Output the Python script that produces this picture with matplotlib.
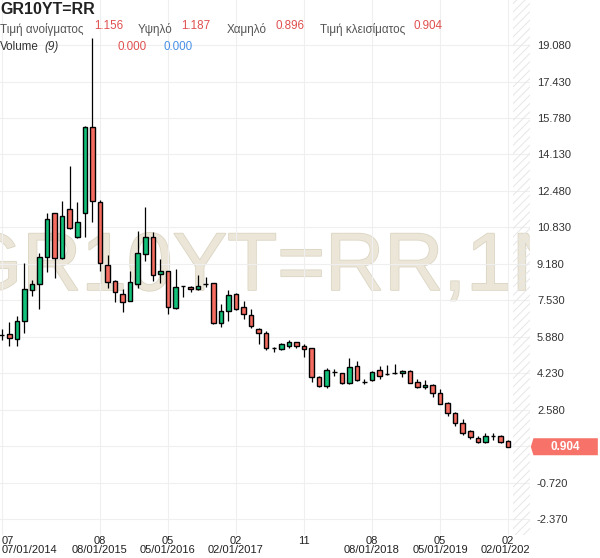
import matplotlib
matplotlib.use('Agg')
import matplotlib.pyplot as plt
import matplotlib.patheffects as pe
from matplotlib.patches import Rectangle, Polygon
from matplotlib.transforms import blended_transform_factory, Bbox, TransformedBbox

plt.rcParams['font.family'] = ['Liberation Sans', 'DejaVu Sans']
plt.rcParams['hatch.linewidth'] = 0.7

# monthly candles, 07/2014 .. 02/2020
opens = [5.96, 6.00, 5.76, 6.59, 7.99, 8.25, 9.50, 11.49, 9.46, 11.65,
         10.41, 11.49, 15.36, 11.99, 9.13, 8.40, 7.80, 7.50, 8.25, 9.61,
         10.41, 8.70, 8.85, 7.19, 8.19, 8.12, 8.03, 8.25, 8.30, 6.49,
         7.04, 7.80, 7.21, 6.86, 6.22, 6.06, 5.38, 5.31, 5.46, 5.63,
         5.46, 5.36, 4.07, 3.65, 4.30, 4.23, 3.77, 4.55, 3.85, 3.92,
         4.37, 4.18, 4.23, 4.23, 4.35, 3.82, 3.59, 3.69, 3.32, 2.87,
         2.42, 1.96, 1.61, 1.28, 1.10, 1.39, 1.40, 1.156]
highs = [6.23, 6.56, 6.82, 9.20, 8.45, 9.68, 11.46, 11.50, 12.03, 13.60,
         11.96, 15.40, 19.40, 12.07, 9.58, 8.45, 8.04, 8.85, 10.66, 11.74,
         10.63, 9.38, 8.86, 8.93, 8.20, 8.19, 8.67, 8.57, 8.30, 7.35,
         8.00, 7.87, 7.50, 7.12, 6.26, 6.14, 5.43, 5.58, 5.73, 5.65,
         5.54, 5.38, 4.10, 4.45, 4.42, 4.25, 4.90, 4.78, 3.97, 4.33,
         4.56, 4.60, 4.64, 4.37, 4.36, 3.97, 3.92, 3.73, 3.50, 2.91,
         2.46, 2.14, 1.66, 1.40, 1.51, 1.54, 1.42, 1.187]
lows = [5.73, 5.46, 5.46, 6.06, 7.74, 7.12, 8.80, 8.55, 9.38, 10.76,
        10.33, 10.41, 11.09, 8.87, 8.10, 7.44, 6.99, 7.50, 8.10, 9.32,
        8.42, 8.33, 6.89, 7.15, 7.69, 7.92, 8.00, 8.15, 6.45, 6.33,
        6.60, 7.09, 6.67, 6.26, 5.54, 5.28, 5.17, 5.29, 5.38, 5.38,
        4.98, 3.82, 3.60, 3.55, 4.12, 3.73, 3.75, 3.89, 3.74, 3.89,
        3.95, 4.15, 4.21, 4.08, 3.78, 3.57, 3.51, 3.17, 2.82, 2.31,
        1.85, 1.43, 1.25, 1.08, 1.08, 1.21, 1.08, 0.896]
closes = [5.96, 5.81, 6.60, 8.04, 8.25, 9.50, 11.19, 9.46, 11.36, 10.81,
          11.09, 15.36, 12.03, 9.20, 8.37, 7.89, 7.44, 8.34, 9.66, 10.41,
          8.66, 8.85, 7.21, 8.15, 8.19, 8.03, 8.19, 8.25, 6.49, 7.06,
          7.77, 7.12, 6.89, 6.37, 6.04, 5.36, 5.38, 5.54, 5.63, 5.46,
          5.31, 4.04, 3.65, 4.37, 4.30, 3.77, 4.49, 3.92, 3.85, 4.30,
          4.12, 4.18, 4.23, 4.33, 3.80, 3.59, 3.69, 3.32, 2.84, 2.42,
          1.96, 1.51, 1.33, 1.10, 1.40, 1.39, 1.10, 0.904]

tick_idx = [0, 13, 22, 31, 40, 49, 58, 67]
tick_months = ['07', '08', '05', '02', '11', '08', '05', '02']
tick_dates = ['07/01/2014', '08/01/2015', '05/01/2016', '02/01/2017', '',
              '08/01/2018', '05/01/2019', '02/01/2020']
y_ticks = [19.08, 17.43, 15.78, 14.13, 12.48, 10.83, 9.18, 7.53, 5.88,
           4.23, 2.58, 0.93, -0.72, -2.37]

green = '#12c27a'
red = '#f56c60'

fig = plt.figure(figsize=(6, 5.58), dpi=100)
ax = fig.add_axes([0, 23 / 558, 530 / 600, 535 / 558])
ax.set_xlim(-0.225, 69.9)
ax.set_ylim(-3.09, 21.12)

for s in ax.spines.values():
    s.set_visible(False)

ax.set_xticks(tick_idx)
ax.set_xticklabels([''] * len(tick_idx))
ax.yaxis.tick_right()
ax.set_yticks(y_ticks)
ax.set_yticklabels(['' if abs(v - 0.93) < 1e-6 else '%.3f' % v for v in y_ticks])
ax.tick_params(axis='both', length=0)
ax.tick_params(axis='y', labelsize=8, pad=5, labelcolor='#333333')
ax.grid(True, color='#efefef', linewidth=0.8)
ax.set_axisbelow(True)

# watermark
ax.text(0.5, 1 - 290 / 535, 'GR10YT=RR,1N', transform=ax.transAxes,
        ha='center', va='baseline', fontsize=59, color='#ebe6d8', zorder=0.5,
        clip_on=True,
        path_effects=[pe.withStroke(linewidth=1.2, foreground='#dbd5c3')])

# future area hatch
ax.axvspan(67.65, 70.0, fill=False, hatch='////', edgecolor='#e6e6e6',
           linewidth=0, zorder=0.6)

# candles
w = 0.6
for i, (o, h, l, c) in enumerate(zip(opens, highs, lows, closes)):
    ax.vlines(i, l, h, color='black', linewidth=0.9, zorder=2)
    col = green if c > o else red
    ax.add_patch(Rectangle((i - w / 2, min(o, c)), w, abs(c - o),
                           facecolor=col, edgecolor='black', linewidth=1.0,
                           zorder=3))

# x labels, two rows
xt = ax.get_xaxis_transform()
clip = TransformedBbox(Bbox([[-0.01, -0.2], [1.0, 1.0]]), ax.transAxes)
for k, (i, m, d) in enumerate(zip(tick_idx, tick_months, tick_dates)):
    ha = 'left' if k == 0 else 'center'
    ax.text(i, -0.011, m, transform=xt, ha=ha, va='center', fontsize=8,
            color='#222222')
    t = ax.text(i, -0.028, d, transform=xt, ha=ha, va='center', fontsize=8,
                color='#222222', clip_on=True)
    t.set_clip_box(clip)

# last price marker
last = closes[-1]
bt = blended_transform_factory(ax.transAxes, ax.transData)
hh = 0.385
ax.add_patch(Polygon([[1.0015, last], [1.0065, last + hh], [1.128, last + hh],
                      [1.128, last - hh], [1.0065, last - hh]],
                     closed=True, transform=bt, facecolor='#f7736a',
                     edgecolor='none', clip_on=False, zorder=5))
ax.text(1.067, last, '%.3f' % last, transform=bt, ha='center', va='center',
        fontsize=8.5, color='white', fontweight='bold', zorder=6)

# header
def fp(x, y):
    return x / 600, 1 - y / 558

fig.text(*fp(0, 10), 'GR10YT=RR', fontsize=11.5, fontweight='bold',
         color='#222222', va='center')

gray = '#555555'
val_red = '#e05050'
fig.text(*fp(0, 29), 'Τιμή ανοίγματος', fontsize=8.4, color=gray, va='center')
fig.text(*fp(94, 26), '1.156', fontsize=8.4, color=val_red, va='center')
fig.text(*fp(138, 29), 'Υψηλό', fontsize=8.4, color=gray, va='center')
fig.text(*fp(181, 26), '1.187', fontsize=8.4, color=val_red, va='center')
fig.text(*fp(227, 29), 'Χαμηλό', fontsize=8.4, color=gray, va='center')
fig.text(*fp(275, 26), '0.896', fontsize=8.4, color=val_red, va='center')
fig.text(*fp(320, 29), 'Τιμή κλεισίματος', fontsize=8.4, color=gray, va='center')
fig.text(*fp(414, 26), '0.904', fontsize=8.4, color=val_red, va='center')

fig.text(*fp(0, 47), 'Volume', fontsize=8.4, color='#333333', va='center')
fig.text(*fp(44, 47), '(9)', fontsize=8.4, color='#333333', va='center',
         style='italic')
fig.text(*fp(117, 47), '0.000', fontsize=8.4, color=val_red, va='center')
fig.text(*fp(163, 47), '0.000', fontsize=8.4, color='#4a8fe7', va='center')

fig.savefig('out.png', dpi=100)
